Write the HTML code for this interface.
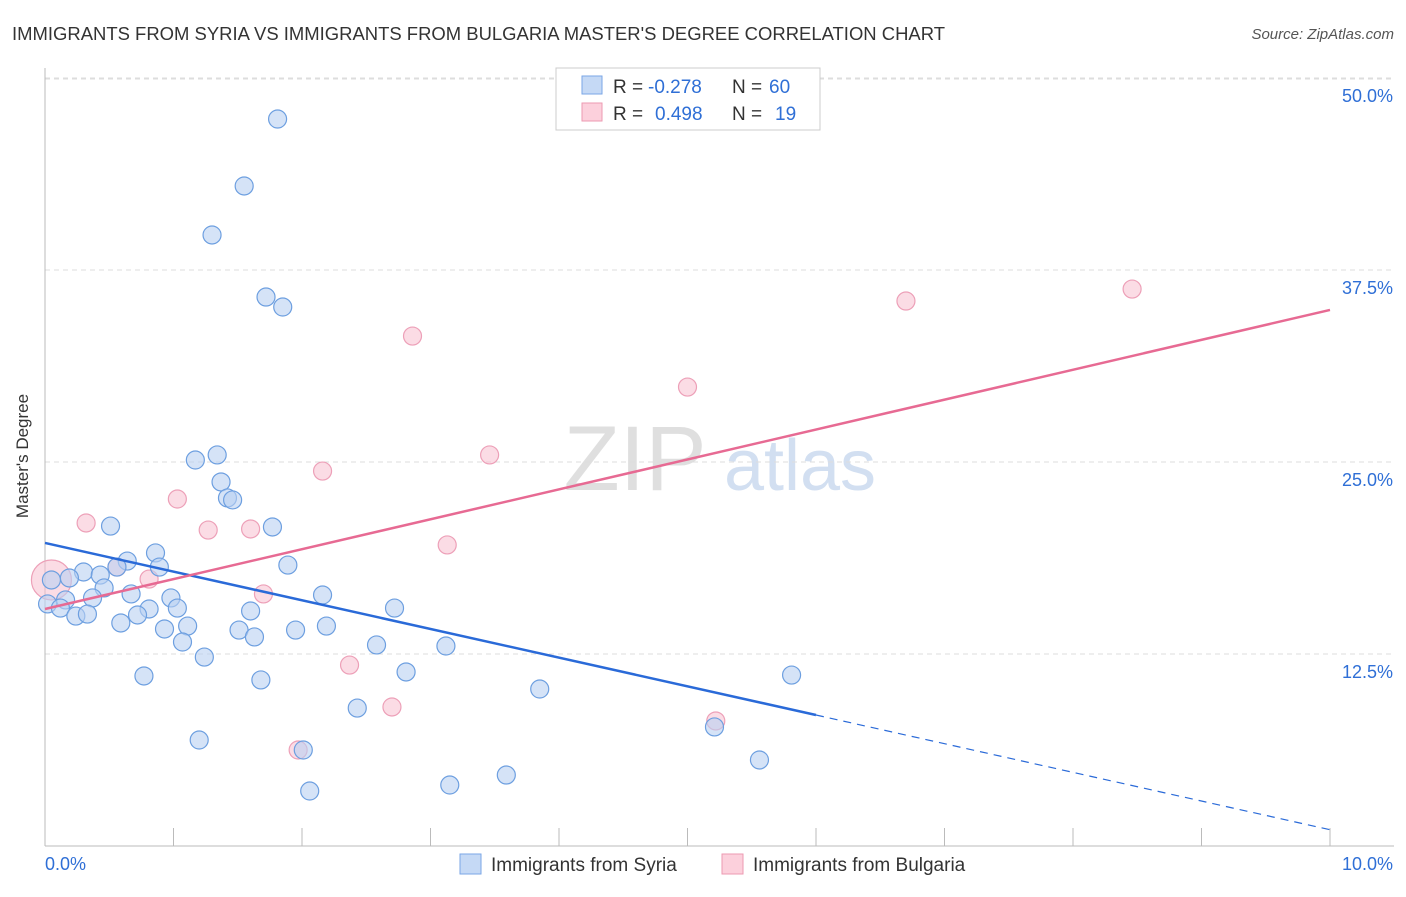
<!DOCTYPE html>
<html><head><meta charset="utf-8"><style>
body{margin:0;background:#fff;font-family:"Liberation Sans",sans-serif;}
svg text{font-family:"Liberation Sans",sans-serif;}
</style></head><body>
<svg width="1406" height="892" viewBox="0 0 1406 892">
<text x="12" y="40" font-size="18" fill="#333" textLength="933" lengthAdjust="spacingAndGlyphs">IMMIGRANTS FROM SYRIA VS IMMIGRANTS FROM BULGARIA MASTER'S DEGREE CORRELATION CHART</text>
<text x="1394" y="39" font-size="15" fill="#555" text-anchor="end" font-style="italic">Source: ZipAtlas.com</text>
<g>
<text x="635" y="490" font-size="92" fill="#d8d8d8" text-anchor="middle" font-family="Liberation Serif, serif" opacity="0.8">ZIP</text>
<text x="800" y="490" font-size="72" fill="#c8d8ee" text-anchor="middle" opacity="0.8">atlas</text>
</g>
<g id="grid"></g>
<g id="marks"></g>
<text x="28" y="456" font-size="17" fill="#333" text-anchor="middle" transform="rotate(-90 28 456)">Master's Degree</text>
<g>
<rect x="556" y="68" width="264" height="62" fill="#fff" stroke="#ccc"/>
<rect x="582" y="76" width="20" height="18" fill="#c5d9f5" stroke="#7aa6e6"/>
<rect x="582" y="103" width="20" height="18" fill="#fcd0dc" stroke="#ec9ab2"/>
<text x="613" y="93" font-size="19" fill="#333">R =</text>
<text x="648" y="93" font-size="19" fill="#2f6fd6">-0.278</text>
<text x="732" y="93" font-size="19" fill="#333">N =</text>
<text x="769" y="93" font-size="19" fill="#2f6fd6">60</text>
<text x="613" y="120" font-size="19" fill="#333">R =</text>
<text x="655" y="120" font-size="19" fill="#2f6fd6">0.498</text>
<text x="732" y="120" font-size="19" fill="#333">N =</text>
<text x="775" y="120" font-size="19" fill="#2f6fd6">19</text>
</g>
<g>
<rect x="460" y="854" width="21" height="20" fill="#c5d9f5" stroke="#7aa6e6"/>
<text x="491" y="871" font-size="19" fill="#333">Immigrants from Syria</text>
<rect x="722" y="854" width="21" height="20" fill="#fcd0dc" stroke="#ec9ab2"/>
<text x="753" y="871" font-size="19" fill="#333">Immigrants from Bulgaria</text>
</g>
<text x="45" y="870" font-size="18" fill="#2f6fd6">0.0%</text>
<text x="1393" y="870" font-size="18" fill="#2f6fd6" text-anchor="end">10.0%</text>
</svg>
<script>
const yTicks=[12.5,25,37.5,50];
const yTickLabels=["12.5%","25.0%","37.5%","50.0%"];
const syriaX=[1.81,1.55,1.30,1.72,1.85,1.34,1.17,1.37,1.42,1.46,0.51,1.77,0.86,0.64,0.56,0.89,1.89,0.30,0.43,0.19,0.05,0.46,0.67,0.98,0.37,2.16,0.16,0.02,0.12,0.81,1.03,1.60,2.72,0.24,0.33,0.72,0.59,1.11,0.93,1.51,2.19,1.95,1.63,1.07,2.58,3.12,1.24,2.81,0.77,1.68,5.81,3.85,2.43,5.21,1.20,2.01,5.56,3.59,3.15,2.06];
const syriaY=[47.33,42.97,39.78,35.74,35.09,25.46,25.13,23.70,22.66,22.53,20.83,20.77,19.08,18.55,18.16,18.16,18.29,17.84,17.64,17.45,17.32,16.80,16.41,16.15,16.15,16.34,16.02,15.76,15.49,15.43,15.49,15.30,15.49,14.97,15.10,15.04,14.52,14.32,14.13,14.06,14.32,14.06,13.61,13.28,13.09,13.02,12.30,11.33,11.07,10.81,11.13,10.22,8.98,7.75,6.90,6.25,5.60,4.62,3.97,3.58];
const bulgX=[0.05,0.32,1.03,1.27,1.60,2.16,2.86,3.46,3.13,0.81,0.56,1.70,2.37,2.70,1.97,5.22,5.00,6.70,8.46];
const bulgY=[17.32,21.03,22.59,20.57,20.64,24.41,33.20,25.46,19.60,17.38,18.16,16.41,11.78,9.05,6.25,8.14,29.88,35.48,36.26];
const syriaTrend=[19.73,-1.867];
const bulgTrend=[15.43,1.947];
const X0=45,X1=1330,Y0=846,PXY=15.36;
const sx=v=>X0+v*(X1-X0)/10;
const sy=v=>Y0-v*PXY;
const NS="http://www.w3.org/2000/svg";
function mk(t,a,p){const e=document.createElementNS(NS,t);for(const k in a)e.setAttribute(k,a[k]);p.appendChild(e);return e;}
const g=document.getElementById('grid'),m=document.getElementById('marks');
let l=mk('line',{x1:X0,x2:1394,y1:79,y2:79,stroke:'#ddd','stroke-dasharray':'5,4'},g);


yTicks.forEach((t,i)=>{
 const gl=mk('line',{x1:X0,x2:1394,y1:sy(t),y2:sy(t),stroke:'#ddd','stroke-dasharray':'5,4'},g);
 
 
 const tx=mk('text',{x:1393,y:sy(t)+24,'font-size':18,fill:'#2f6fd6','text-anchor':'end'},g);
 tx.textContent=yTickLabels[i];
 
 
});
const ax=mk('line',{x1:X0,x2:X0,y1:68,y2:Y0,stroke:'#bbb'},g);


const bx=mk('line',{x1:X0,x2:1394,y1:Y0,y2:Y0,stroke:'#bbb'},g);


for(let i=1;i<=10;i++){const tk=mk('line',{x1:sx(i),x2:sx(i),y1:828,y2:Y0,stroke:'#bbb'},g);
 
 }
bulgX.forEach((x,i)=>{const c=mk('circle',{cx:sx(x),cy:sy(bulgY[i]),r:i===0?20:9,fill:'#f8bfd0','fill-opacity':0.55,stroke:'#eda0b8','stroke-width':1.2},m);
 
 });
syriaX.forEach((x,i)=>{const c=mk('circle',{cx:sx(x),cy:sy(syriaY[i]),r:9,fill:'#b9d1f2','fill-opacity':0.6,stroke:'#6d9fe0','stroke-width':1.2},m);
 
 });
const f=(t,x)=>t[0]+t[1]*x;
let t1=mk('line',{x1:sx(0),y1:sy(f(syriaTrend,0)),x2:sx(6),y2:sy(f(syriaTrend,6)),stroke:'#2a6ad8','stroke-width':2.5},m);


let t2=mk('line',{x1:sx(6),y1:sy(f(syriaTrend,6)),x2:sx(10),y2:sy(f(syriaTrend,10)),stroke:'#2a6ad8','stroke-width':1.2,'stroke-dasharray':'8,6'},m);


let t3=mk('line',{x1:sx(0),y1:sy(f(bulgTrend,0)),x2:sx(10),y2:sy(f(bulgTrend,10)),stroke:'#e76a93','stroke-width':2.5},m);


</script>
</body></html>
